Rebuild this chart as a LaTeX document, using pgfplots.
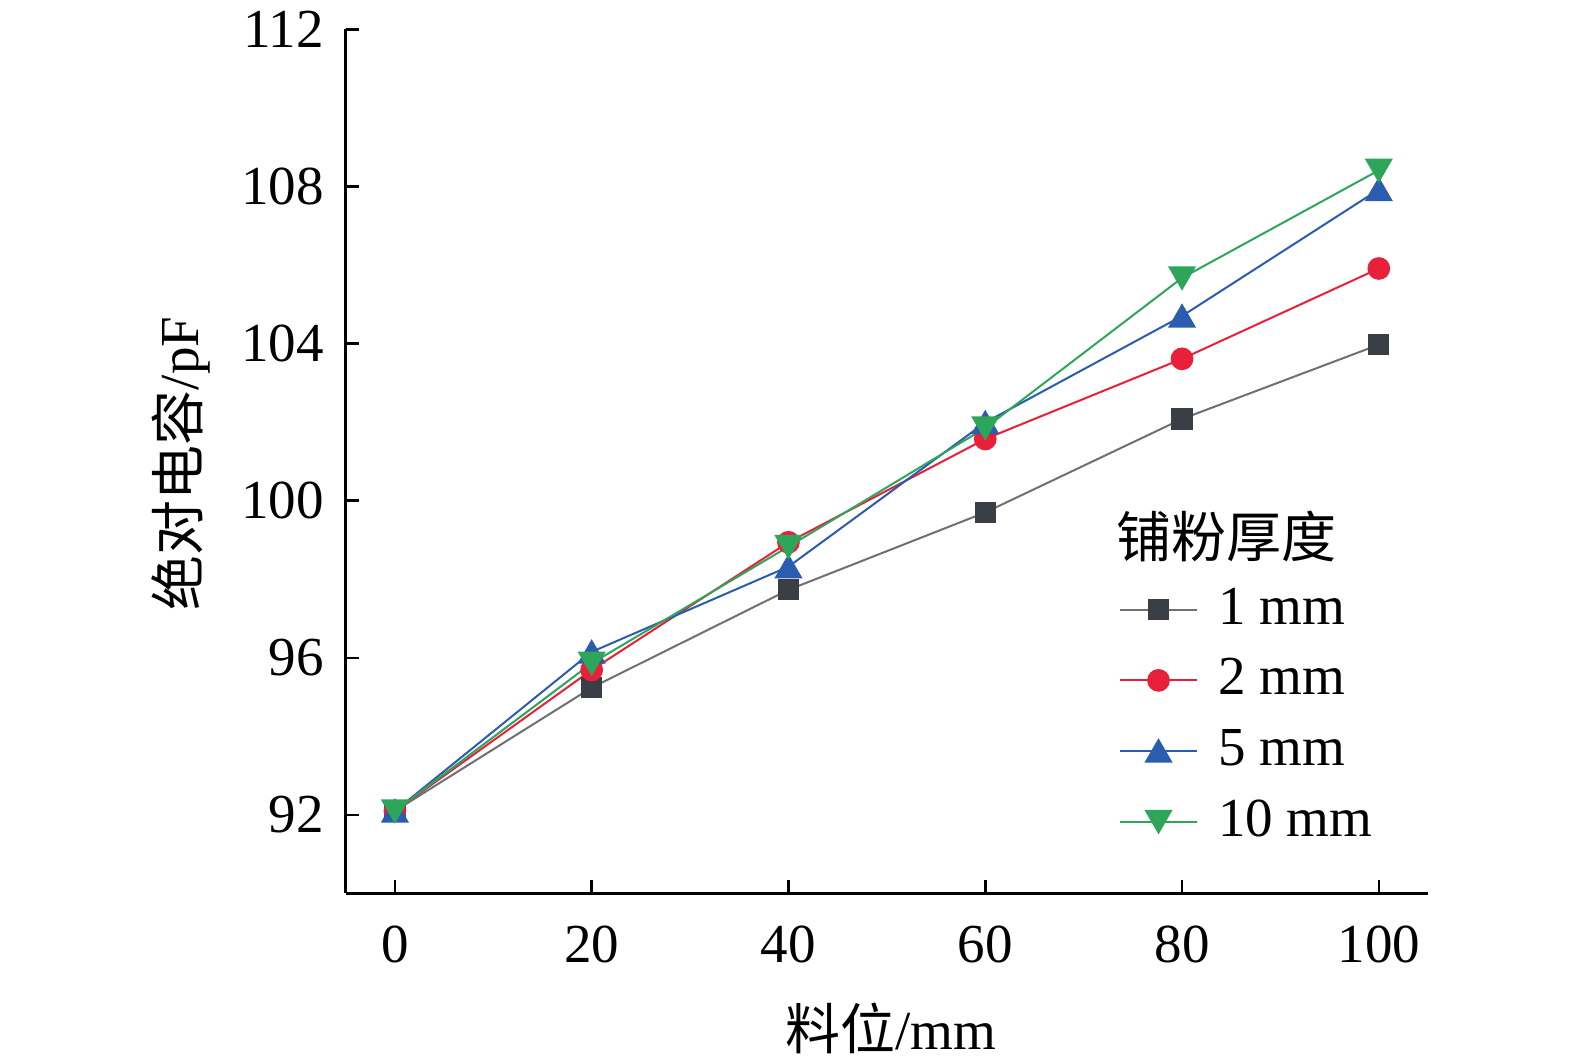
\documentclass[border=0pt]{standalone}
\usepackage{pgfplots}
\pgfplotsset{compat=1.18}
\usepackage{fontspec}
\setmainfont{Liberation Serif}
\newfontfamily\cjk{Noto Sans CJK SC}
\definecolor{cA}{HTML}{3A3E45}
\definecolor{cAl}{HTML}{707070}
\definecolor{cB}{HTML}{E8203A}
\definecolor{cC}{HTML}{2A5CB0}
\definecolor{cD}{HTML}{2EA65A}
\begin{document}
\begin{tikzpicture}
\useasboundingbox (-69.14pt,-34.1pt) rectangle (245.86pt,178.7pt);
\begin{axis}[
  at={(0pt,0pt)}, anchor=south west,
  scale only axis, width=216.46pt, height=172.84pt,
  xmin=-5, xmax=105, ymin=90, ymax=112,
  axis lines=left, axis line style={-, line width=0.55pt},
  xtick={0,20,40,60,80,100}, ytick={92,96,100,104,108,112},
  tick align=inside, major tick length=2.6pt, tick style={line width=0.5pt, black},
  /pgf/number format/assume math mode=true,
  tick label style={font=\fontsize{11}{13}\selectfont, inner sep=0pt},
  xticklabel style={yshift=-6.2pt},
  yticklabel style={xshift=-4.2pt},
  label style={font=\fontsize{11}{13}\selectfont, inner sep=0pt},
  xlabel={{\cjk 料位}/mm},
  ylabel={{\cjk 绝对电容}/pF},
  xlabel style={at={(axis description cs:0.5034,-0.1557)}, anchor=center},
  ylabel style={at={(axis description cs:-0.152,0.4976)}, anchor=center},
  legend style={draw=none, fill=none, at={(axis description cs:0.7136,0.46)}, anchor=north west,
    font=\fontsize{11}{13}\selectfont, row sep=1.37pt, inner sep=0pt, cells={anchor=west},
    /tikz/every odd column/.append style={column sep=2pt}},
  legend image code/.code={\draw[mark repeat=2,mark phase=2,#1] plot coordinates {(0pt,0pt)(7.7pt,0pt)(15.4pt,0pt)};},
]
\addlegendimage{empty legend}
\addlegendentry{\hspace{-20.4pt}\raisebox{-0.8pt}[\height][-0.8pt]{\cjk 铺粉厚度}}
\addplot[color=cAl, line width=0.4pt, mark=square*, mark size=1.93pt, mark options={fill=cA, draw=cA}]
  coordinates {(0,92.1)(20,95.24)(40,97.73)(60,99.70)(80,102.08)(100,103.97)};
\addlegendentry{1 mm}
\addplot[color=cB, line width=0.4pt, mark=*, mark size=2.07pt, mark options={fill=cB, draw=cB}]
  coordinates {(0,92.1)(20,95.69)(40,98.94)(60,101.57)(80,103.61)(100,105.91)};
\addlegendentry{2 mm}
\addplot[color=cC, line width=0.4pt, mark=triangle*, mark size=2.85pt, mark options={fill=cC, draw=cC, yshift=-0.7pt}]
  coordinates {(0,92.1)(20,96.15)(40,98.32)(60,101.99)(80,104.70)(100,107.92)};
\addlegendentry{5 mm}
\addplot[color=cD, line width=0.4pt, mark=triangle*, mark size=2.85pt, mark options={fill=cD, draw=cD, yshift=0.7pt, rotate=180}]
  coordinates {(0,92.1)(20,95.86)(40,98.83)(60,101.85)(80,105.67)(100,108.41)};
\addlegendentry{10 mm}
\end{axis}
\end{tikzpicture}
\end{document}
